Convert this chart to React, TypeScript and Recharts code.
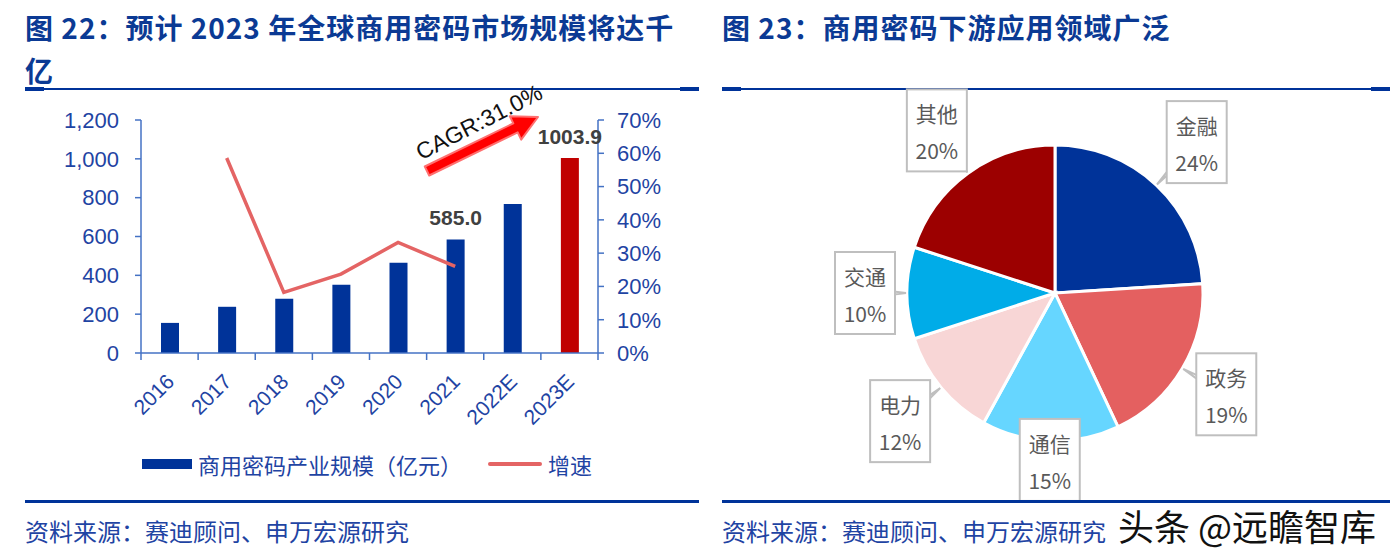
import React from "react";
import {
  Bar,
  Cell,
  ComposedChart,
  LabelList,
  Legend,
  Line,
  Pie,
  PieChart,
  XAxis,
  YAxis,
} from "recharts";

// ---- figure 22 data ----
const years = ["2016", "2017", "2018", "2019", "2020", "2021", "2022E", "2023E"];
const marketSize = [155, 238, 280, 352, 465, 585, 767, 1003.9];
const growthRate = [null, 58.6, 18.2, 23.7, 33.2, 26.0, null, null];
const labelledYears = ["2021", "2023E"];
const highlightYear = "2023E";
const sizeTicks = [0, 200, 400, 600, 800, 1000, 1200];
const rateTicks = [0, 10, 20, 30, 40, 50, 60, 70];

// ---- figure 23 data ----
const sectors = ["金融", "政务", "通信", "电力", "交通", "其他"];
const shares = [24, 19, 15, 12, 10, 20];

const SIZE_NAME = "商用密码产业规模（亿元）";
const RATE_NAME = "增速";

const NAVY = "#003399";
const TITLE_BLUE = "#0B3A94";
const TEXT_BLUE = "#1F44A3";
const AXIS_BLUE = "#4472C4";
const RED_BAR = "#C00000";
const LINE_RED = "#E46464";
const SLICE_COLORS = ["#003399", "#E46060", "#66D6FF", "#F8D6D6", "#00ACE8", "#9C0000"];
const CJK = '"Noto Sans CJK SC", "Noto Sans", sans-serif';
const LATIN = '"Liberation Sans", Arial, sans-serif';

const barData = years.map((y, i) => ({
  year: y,
  size: marketSize[i],
  rate: growthRate[i],
}));

const pieData = sectors.map((s, i) => ({ name: s, value: shares[i] }));

// how far each callout box sits from the pie centre
const CALLOUT_DIST: Record<string, number> = {
  金融: 207,
  政务: 199,
  通信: 167,
  电力: 201,
  交通: 190,
  其他: 201,
};

function YearTick(props: any) {
  const { x, y, payload, index, visibleTicksCount, width } = props;
  const band = width / visibleTicksCount;
  const tx = x + 6;
  const ty = y + 30;
  return (
    <g>
      <line x1={x - band / 2} x2={x - band / 2} y1={y} y2={y + 7} stroke={AXIS_BLUE} strokeWidth={1.5} />
      {index === visibleTicksCount - 1 && (
        <line x1={x + band / 2} x2={x + band / 2} y1={y} y2={y + 7} stroke={AXIS_BLUE} strokeWidth={1.5} />
      )}
      <text
        x={tx}
        y={ty}
        transform={`rotate(-45 ${tx} ${ty})`}
        textAnchor="end"
        fontSize={21}
        fontFamily={LATIN}
        fill={TEXT_BLUE}
      >
        {payload.value}
      </text>
    </g>
  );
}

function SizeLabel(props: any) {
  const { x, y, width, value, index } = props;
  if (!labelledYears.includes(years[index])) return null;
  return (
    <text
      x={x + width / 2}
      y={y - 14}
      textAnchor="middle"
      fontSize={21}
      fontWeight={700}
      fontFamily={LATIN}
      fill="#404040"
    >
      {Number(value).toFixed(1)}
    </text>
  );
}

function LegendContent(props: any) {
  const { payload = [] } = props;
  return (
    <div style={{ display: "flex", alignItems: "center", paddingLeft: 142, fontFamily: CJK, fontSize: 22, color: TEXT_BLUE }}>
      {payload.map((p: any, i: number) => (
        <div key={i} style={{ display: "flex", alignItems: "center", marginRight: 26 }}>
          {p.type === "line" ? (
            <span style={{ display: "inline-block", width: 54, height: 4, background: p.color, borderRadius: 2, marginRight: 6 }} />
          ) : (
            <span style={{ display: "inline-block", width: 50, height: 10, background: p.color, marginRight: 6 }} />
          )}
          <span>{p.value}</span>
        </div>
      ))}
    </div>
  );
}

function PieCallout(props: any) {
  const { cx, cy, midAngle, outerRadius, name, value } = props;
  const rad = Math.PI / 180;
  const cos = Math.cos(-midAngle * rad);
  const sin = Math.sin(-midAngle * rad);
  const dist = CALLOUT_DIST[name] ?? outerRadius + 50;
  const bx = cx + dist * cos;
  const by = cy + dist * sin;
  const tipX = cx + (outerRadius + 1) * cos;
  const tipY = cy + (outerRadius + 1) * sin;
  const w = 5;
  const pts = `${bx - sin * w},${by + cos * w} ${tipX},${tipY} ${bx + sin * w},${by - cos * w}`;
  return (
    <g>
      <polygon points={pts} fill="#fff" stroke="#BFBFBF" strokeWidth={2} />
      <rect x={bx - 30} y={by - 41} width={60} height={82} fill="#fff" stroke="#BFBFBF" strokeWidth={2} />
      <text x={bx} y={by - 17} textAnchor="middle" dominantBaseline="central" fontSize={21} fontFamily={CJK} fill="#595959">
        {name}
      </text>
      <text x={bx} y={by + 20} textAnchor="middle" dominantBaseline="central" fontSize={21} fontFamily={CJK} fill="#595959">
        {value}%
      </text>
    </g>
  );
}

function Rule({ left, width, top }: { left: number; width: number; top: number }) {
  return (
    <>
      <div style={{ position: "absolute", left, top, width, height: 1.5, background: NAVY }} />
      <div style={{ position: "absolute", left, top: top - 1.5, width: 19, height: 4, background: NAVY }} />
      <div style={{ position: "absolute", left: left + width - 19, top: top - 1.5, width: 19, height: 4, background: NAVY }} />
    </>
  );
}

function CagrArrow() {
  const sx = 427, sy = 171, ex = 538, ey = 117;
  const len = Math.hypot(ex - sx, ey - sy);
  const ux = (ex - sx) / len, uy = (ey - sy) / len;
  const nx = -uy, ny = ux;
  const hx = ex - ux * 25, hy = ey - uy * 25;
  const p = (x: number, y: number) => `${x.toFixed(1)},${y.toFixed(1)}`;
  const pts = [
    p(sx + nx * 5, sy + ny * 5),
    p(hx + nx * 5, hy + ny * 5),
    p(hx + nx * 13, hy + ny * 13),
    p(ex, ey),
    p(hx - nx * 13, hy - ny * 13),
    p(hx - nx * 5, hy - ny * 5),
    p(sx - nx * 5, sy - ny * 5),
  ].join(" ");
  return (
    <svg width={700} height={200} style={{ position: "absolute", left: 0, top: 0, pointerEvents: "none" }}>
      <polygon points={pts} fill="#FF0000" stroke="#FF7070" strokeWidth={2} strokeLinejoin="round" />
      <text
        x={479}
        y={122}
        transform="rotate(-27 479 122)"
        textAnchor="middle"
        dominantBaseline="central"
        fontSize={23}
        fontFamily={LATIN}
        fill="#111"
      >
        CAGR:31.0%
      </text>
    </svg>
  );
}

const titleStyle: React.CSSProperties = {
  position: "absolute",
  top: 6,
  fontFamily: CJK,
  fontWeight: 700,
  fontSize: 28,
  letterSpacing: 1,
  lineHeight: "43px",
  color: TITLE_BLUE,
  whiteSpace: "nowrap",
};

const sourceStyle: React.CSSProperties = {
  position: "absolute",
  top: 514,
  fontFamily: CJK,
  fontSize: 24,
  lineHeight: "34px",
  color: TEXT_BLUE,
  whiteSpace: "nowrap",
};

export default function App() {
  return (
    <div style={{ position: "absolute", left: 0, top: 0, width: 1390, height: 557, background: "#fff", overflow: "hidden" }}>
      <div style={{ ...titleStyle, left: 25 }}>
        图 22：预计 2023 年全球商用密码市场规模将达千
        <br />
        亿
      </div>
      <div style={{ ...titleStyle, left: 722 }}>图 23：商用密码下游应用领域广泛</div>
      <Rule left={25} width={674} top={88} />
      <Rule left={722} width={668} top={88} />

      <div style={{ position: "absolute", left: 0, top: 0 }}>
        <ComposedChart width={700} height={500} data={barData} margin={{ top: 120, right: 42, left: 61, bottom: 87 }}>
          <XAxis
            dataKey="year"
            height={60}
            tickSize={0}
            tickMargin={0}
            tickLine={false}
            axisLine={{ stroke: AXIS_BLUE, strokeWidth: 1.5 }}
            interval={0}
            tick={<YearTick />}
          />
          <YAxis
            yAxisId="size"
            width={80}
            domain={[0, 1200]}
            ticks={sizeTicks}
            tickFormatter={(v: number) => v.toLocaleString("en-US")}
            tickSize={6}
            tickMargin={16}
            axisLine={{ stroke: AXIS_BLUE, strokeWidth: 1.5 }}
            tickLine={{ stroke: AXIS_BLUE, strokeWidth: 1.5 }}
            tick={{ fill: TEXT_BLUE, fontSize: 22, fontFamily: LATIN }}
          />
          <YAxis
            yAxisId="rate"
            orientation="right"
            width={60}
            domain={[0, 70]}
            ticks={rateTicks}
            tickFormatter={(v: number) => `${v}%`}
            tickSize={6}
            tickMargin={13}
            axisLine={{ stroke: AXIS_BLUE, strokeWidth: 1.5 }}
            tickLine={{ stroke: AXIS_BLUE, strokeWidth: 1.5 }}
            tick={{ fill: TEXT_BLUE, fontSize: 22, fontFamily: LATIN, textAnchor: "start" }}
          />
          <Legend
            verticalAlign="middle"
            align="center"
            layout="horizontal"
            wrapperStyle={{ top: 448, left: 0, width: 700 }}
            content={<LegendContent />}
          />
          <Bar yAxisId="size" dataKey="size" name={SIZE_NAME} fill={NAVY} barSize={18} isAnimationActive={false}>
            {barData.map((d, i) => (
              <Cell key={i} fill={d.year === highlightYear ? RED_BAR : NAVY} />
            ))}
            <LabelList dataKey="size" content={<SizeLabel />} />
          </Bar>
          <Line
            yAxisId="rate"
            dataKey="rate"
            name={RATE_NAME}
            stroke={LINE_RED}
            strokeWidth={3.5}
            dot={false}
            activeDot={false}
            isAnimationActive={false}
          />
        </ComposedChart>
      </div>
      <CagrArrow />

      <div style={{ position: "absolute", left: 700, top: 0 }}>
        <PieChart width={690} height={500} margin={{ top: 0, right: 0, left: 0, bottom: 0 }}>
          <Pie
            data={pieData}
            dataKey="value"
            nameKey="name"
            cx={355}
            cy={293}
            outerRadius={148}
            startAngle={90}
            endAngle={-270}
            stroke="#fff"
            strokeWidth={3}
            label={PieCallout}
            labelLine={false}
            isAnimationActive={false}
          >
            {pieData.map((d, i) => (
              <Cell key={d.name} fill={SLICE_COLORS[i]} />
            ))}
          </Pie>
        </PieChart>
      </div>

      <div style={{ position: "absolute", left: 25, top: 500, width: 674, height: 2.5, background: NAVY }} />
      <div style={{ position: "absolute", left: 722, top: 500, width: 668, height: 2.5, background: NAVY }} />
      <div style={{ ...sourceStyle, left: 25 }}>资料来源：赛迪顾问、申万宏源研究</div>
      <div style={{ ...sourceStyle, left: 722 }}>资料来源：赛迪顾问、申万宏源研究</div>
      <div
        style={{
          position: "absolute",
          left: 1118,
          top: 503,
          fontFamily: CJK,
          fontSize: 36,
          lineHeight: "44px",
          color: "#111",
          whiteSpace: "nowrap",
        }}
      >
        头条 @远瞻智库
      </div>
    </div>
  );
}
